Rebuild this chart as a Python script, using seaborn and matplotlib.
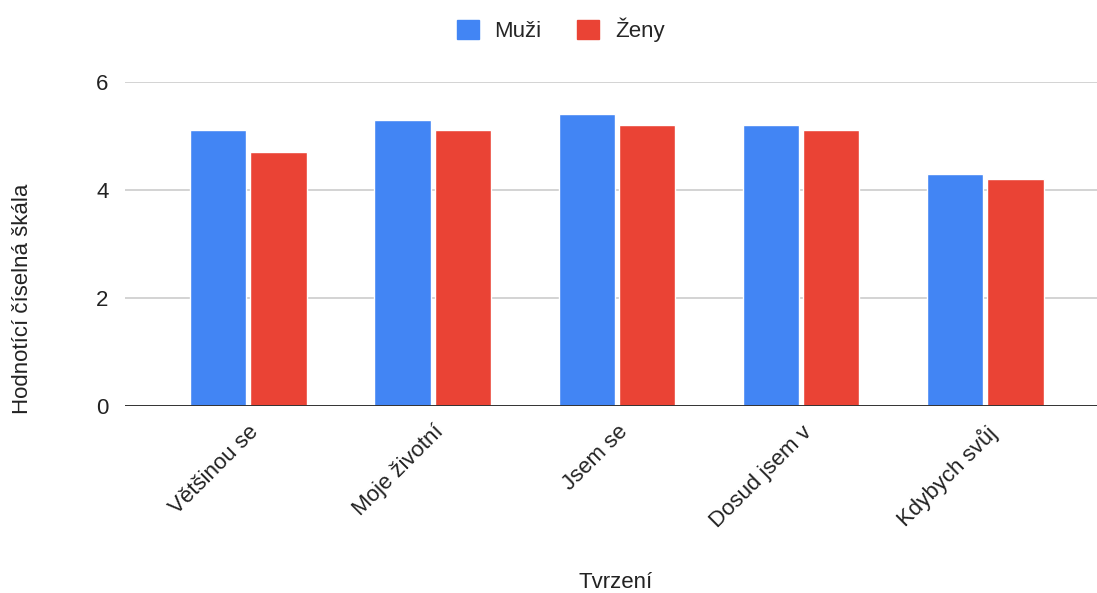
import matplotlib
matplotlib.use("Agg")
import matplotlib.pyplot as plt
import seaborn as sns
import pandas as pd

# data
categories = ["Většinou se", "Moje životní", "Jsem se", "Dosud jsem v", "Kdybych svůj"]
muzi = [5.1, 5.3, 5.4, 5.2, 4.3]
zeny = [4.7, 5.1, 5.2, 5.1, 4.2]
series = ["Muži", "Ženy"]
colors = ["#4285F4", "#EA4335"]

df = pd.DataFrame({
    "Tvrzení": categories * 2,
    "value": muzi + zeny,
    "pohlavi": [series[0]] * len(muzi) + [series[1]] * len(zeny),
})

sns.set_theme(style="white")
plt.rcParams["font.family"] = ["Liberation Sans", "DejaVu Sans"]

fig = plt.figure(figsize=(10.97, 5.93), dpi=100)
ax = fig.add_axes([0.114, 0.315, 0.886, 0.547])

sns.barplot(data=df, x="Tvrzení", y="value", hue="pohlavi",
            palette=colors, width=0.654, gap=0.066, ax=ax,
            saturation=1, legend=False)

ax.set_xlim(-0.669, 4.606)
ax.set_ylim(0, 6)
ax.set_yticks([0, 2, 4, 6])
ax.yaxis.grid(True, color="#cccccc", linewidth=1.2)
ax.set_axisbelow(True)
ax.axhline(0, color="#333333", linewidth=1.4, zorder=3)
for s in ax.spines.values():
    s.set_visible(False)

fs = 16
ax.tick_params(axis="y", length=0, pad=12, labelsize=fs, labelcolor="#222222")
ax.tick_params(axis="x", length=0, pad=11, labelsize=fs, labelcolor="#222222")
plt.setp(ax.get_xticklabels(), rotation=45, ha="right", rotation_mode="anchor")

ax.set_xlabel("Tvrzení", fontsize=fs, color="#222222")
ax.set_ylabel("Hodnotící číselná škála", fontsize=fs, color="#222222")
ax.xaxis.set_label_coords(0.505, -0.543)
ax.yaxis.set_label_coords(-0.106, 0.33)
ax.xaxis.label.set_va("center")
ax.yaxis.label.set_va("center")

handles = [plt.Rectangle((0, 0), 1, 1, color=c) for c in colors]
fig.legend(handles, series, loc="upper center", bbox_to_anchor=(0.511, 1.004),
           ncol=2, frameon=False, fontsize=fs, handlelength=1.0,
           handleheight=1.0, handletextpad=0.7, columnspacing=1.6)

fig.savefig("out.png", dpi=100, facecolor="white")
